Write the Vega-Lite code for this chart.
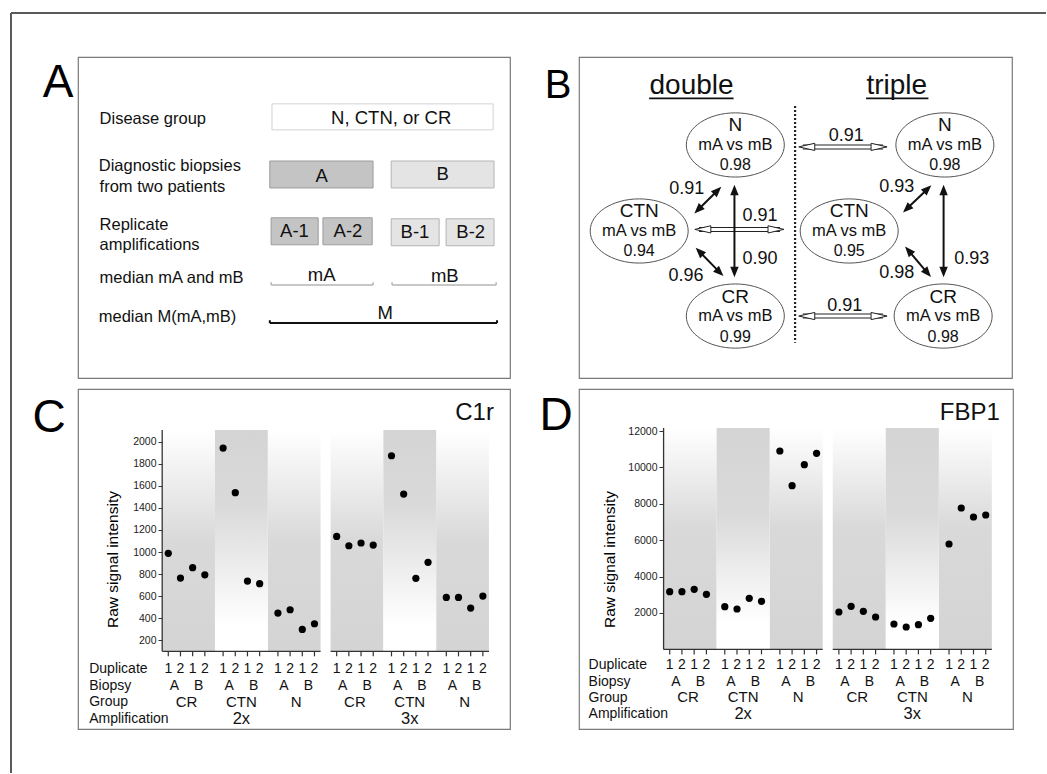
{
  "$schema": "https://vega.github.io/schema/vega-lite/v6.json",
  "background": "white",
  "padding": {"left": 9, "top": 11, "right": 0, "bottom": 0},
  "columns": 2,
  "align": "each",
  "bounds": "flush",
  "spacing": {"row": 11, "column": 69},
  "config": {
    "font": "Liberation Sans",
    "view": {"stroke": "#7a7a7a", "strokeWidth": 1.2},
    "title": {"orient": "left", "anchor": "end", "frame": "group", "angle": 0, "align": "right", "baseline": "top", "fontSize": 46, "fontWeight": "normal", "color": "#000"},
    "axis": {"domain": false, "grid": false, "tickSize": 4, "tickColor": "#333", "labelFontSize": 10.5, "labelColor": "#222", "labelPadding": 2, "labelOverlap": false, "titleFontSize": 15.5, "titleFontWeight": "normal", "titleColor": "#000"},
    "text": {"color": "#111"}
  },
  "datasets": {
    "frame": [
      {"side": "top", "x1": -15.51, "x2": 224.07, "y1": -13.71, "y2": -13.71},
      {"side": "left", "x1": -15.51, "x2": -15.51, "y1": -13.71, "y2": 223.05}
    ],
    "aBoxes": [
      {"item": "group", "shade": "group", "x1": 44.9, "x2": 96.1, "y1": 14.6, "y2": 22.7},
      {"item": "A", "shade": "A", "x1": 44.4, "x2": 68.3, "y1": 32.4, "y2": 40.8},
      {"item": "B", "shade": "B", "x1": 72.5, "x2": 96.3, "y1": 32.4, "y2": 40.8},
      {"item": "A-1", "shade": "A", "x1": 44.7, "x2": 55.6, "y1": 50.1, "y2": 58.5},
      {"item": "A-2", "shade": "A", "x1": 56.7, "x2": 68.1, "y1": 50.1, "y2": 58.5},
      {"item": "B-1", "shade": "B", "x1": 72.5, "x2": 83.6, "y1": 50.4, "y2": 58.8},
      {"item": "B-2", "shade": "B", "x1": 85.2, "x2": 96.3, "y1": 50.4, "y2": 58.8}
    ],
    "aBoxText": [
      {"t": "N, CTN, or CR", "x": 72.5, "y": 19.0},
      {"t": "A", "x": 56.4, "y": 37.0},
      {"t": "B", "x": 84.4, "y": 36.6},
      {"t": "A-1", "x": 50.1, "y": 54.2},
      {"t": "A-2", "x": 62.5, "y": 54.2},
      {"t": "B-1", "x": 78.0, "y": 54.6},
      {"t": "B-2", "x": 90.9, "y": 54.6},
      {"t": "mA", "x": 56.4, "y": 68.0},
      {"t": "mB", "x": 84.9, "y": 68.2},
      {"t": "M", "x": 71.1, "y": 79.6}
    ],
    "aLabels": [
      {"t": "Disease group", "x": 5.0, "y": 19.3},
      {"t": "Diagnostic biopsies", "x": 4.8, "y": 34.0},
      {"t": "from two patients", "x": 5.0, "y": 40.4},
      {"t": "Replicate", "x": 5.0, "y": 52.4},
      {"t": "amplifications", "x": 5.0, "y": 58.7},
      {"t": "median mA and mB", "x": 5.0, "y": 68.7},
      {"t": "median M(mA,mB)", "x": 4.8, "y": 81.0}
    ],
    "aBr": [
      {"kind": "thin", "x1": 44.7, "x2": 68.3, "y1": 71.0, "y2": 71.0},
      {"kind": "thin", "x1": 44.7, "x2": 44.7, "y1": 70.2, "y2": 71.0},
      {"kind": "thin", "x1": 68.3, "x2": 68.3, "y1": 70.2, "y2": 71.0},
      {"kind": "thin", "x1": 72.7, "x2": 96.8, "y1": 71.0, "y2": 71.0},
      {"kind": "thin", "x1": 72.7, "x2": 72.7, "y1": 70.2, "y2": 71.0},
      {"kind": "thin", "x1": 96.8, "x2": 96.8, "y1": 70.2, "y2": 71.0},
      {"kind": "thick", "x1": 44.4, "x2": 97.0, "y1": 82.9, "y2": 82.9},
      {"kind": "thick", "x1": 44.4, "x2": 44.4, "y1": 82.0, "y2": 82.9},
      {"kind": "thick", "x1": 97.0, "x2": 97.0, "y1": 82.0, "y2": 82.9}
    ],
    "bNodes": [
      {"side": "double", "name": "N", "x": 36.1, "y": 27.4, "r": "0.98"},
      {"side": "double", "name": "CTN", "x": 13.9, "y": 54.2, "r": "0.94"},
      {"side": "double", "name": "CR", "x": 36.1, "y": 80.7, "r": "0.99"},
      {"side": "triple", "name": "N", "x": 84.5, "y": 27.4, "r": "0.98"},
      {"side": "triple", "name": "CTN", "x": 62.4, "y": 54.2, "r": "0.95"},
      {"side": "triple", "name": "CR", "x": 84.1, "y": 80.7, "r": "0.98"}
    ],
    "bHead": [
      {"t": "double", "x": 26.0, "y": 11.5, "u1": 16.2, "u2": 35.7, "uy": 12.9},
      {"t": "triple", "x": 73.4, "y": 11.5, "u1": 66.3, "u2": 80.7, "uy": 12.9}
    ],
    "bDiv": [{"x": 49.9, "y1": 15.3, "y2": 89.0}],
    "bLinks": [
      {"kind": "solid", "x1": 32.0, "y1": 41.6, "x2": 27.5, "y2": 47.6},
      {"kind": "solid", "x1": 35.9, "y1": 41.4, "x2": 35.9, "y2": 67.0},
      {"kind": "solid", "x1": 27.8, "y1": 60.6, "x2": 32.5, "y2": 67.1},
      {"kind": "solid", "x1": 80.5, "y1": 41.1, "x2": 75.7, "y2": 47.3},
      {"kind": "solid", "x1": 84.2, "y1": 41.4, "x2": 84.2, "y2": 67.0},
      {"kind": "solid", "x1": 76.1, "y1": 60.3, "x2": 80.5, "y2": 67.3},
      {"kind": "hollow", "x1": 27.7, "y1": 53.7, "x2": 46.4, "y2": 53.7},
      {"kind": "hollow", "x1": 51.7, "y1": 28.0, "x2": 70.2, "y2": 28.0},
      {"kind": "hollow", "x1": 51.7, "y1": 80.7, "x2": 70.2, "y2": 80.7}
    ],
    "bTips": [
      {"kind": "solid", "x": 32.0, "y": 41.6, "angle": 45},
      {"kind": "solid", "x": 27.5, "y": 47.6, "angle": 225},
      {"kind": "solid", "x": 35.9, "y": 41.4, "angle": 0},
      {"kind": "solid", "x": 35.9, "y": 67.0, "angle": 180},
      {"kind": "solid", "x": 27.8, "y": 60.6, "angle": 315},
      {"kind": "solid", "x": 32.5, "y": 67.1, "angle": 135},
      {"kind": "solid", "x": 80.5, "y": 41.1, "angle": 46},
      {"kind": "solid", "x": 75.7, "y": 47.3, "angle": 226},
      {"kind": "solid", "x": 84.2, "y": 41.4, "angle": 0},
      {"kind": "solid", "x": 84.2, "y": 67.0, "angle": 180},
      {"kind": "solid", "x": 76.1, "y": 60.3, "angle": 319},
      {"kind": "solid", "x": 80.5, "y": 67.3, "angle": 139},
      {"kind": "hollow", "x": 28.6, "y": 53.7, "angle": 270},
      {"kind": "hollow", "x": 45.5, "y": 53.7, "angle": 90},
      {"kind": "hollow", "x": 52.6, "y": 28.0, "angle": 270},
      {"kind": "hollow", "x": 69.3, "y": 28.0, "angle": 90},
      {"kind": "hollow", "x": 52.6, "y": 80.7, "angle": 270},
      {"kind": "hollow", "x": 69.3, "y": 80.7, "angle": 90}
    ],
    "bLabels": [
      {"t": "0.91", "x": 24.9, "y": 41.0},
      {"t": "0.90", "x": 41.8, "y": 62.9},
      {"t": "0.96", "x": 24.7, "y": 68.2},
      {"t": "0.91", "x": 41.8, "y": 49.5},
      {"t": "0.91", "x": 61.7, "y": 24.6},
      {"t": "0.91", "x": 61.4, "y": 77.6},
      {"t": "0.93", "x": 73.4, "y": 40.4},
      {"t": "0.93", "x": 90.7, "y": 63.0},
      {"t": "0.98", "x": 73.4, "y": 67.2}
    ],
    "c1r": [
      {"amp": "2x", "group": "CR", "biopsy": "A", "dup": 1, "key": "CR A 1", "value": 988},
      {"amp": "2x", "group": "CR", "biopsy": "A", "dup": 2, "key": "CR A 2", "value": 764},
      {"amp": "2x", "group": "CR", "biopsy": "B", "dup": 1, "key": "CR B 1", "value": 858},
      {"amp": "2x", "group": "CR", "biopsy": "B", "dup": 2, "key": "CR B 2", "value": 794},
      {"amp": "2x", "group": "CTN", "biopsy": "A", "dup": 1, "key": "CTN A 1", "value": 1943},
      {"amp": "2x", "group": "CTN", "biopsy": "A", "dup": 2, "key": "CTN A 2", "value": 1538},
      {"amp": "2x", "group": "CTN", "biopsy": "B", "dup": 1, "key": "CTN B 1", "value": 737},
      {"amp": "2x", "group": "CTN", "biopsy": "B", "dup": 2, "key": "CTN B 2", "value": 713},
      {"amp": "2x", "group": "N", "biopsy": "A", "dup": 1, "key": "N A 1", "value": 447},
      {"amp": "2x", "group": "N", "biopsy": "A", "dup": 2, "key": "N A 2", "value": 477},
      {"amp": "2x", "group": "N", "biopsy": "B", "dup": 1, "key": "N B 1", "value": 299},
      {"amp": "2x", "group": "N", "biopsy": "B", "dup": 2, "key": "N B 2", "value": 350},
      {"amp": "3x", "group": "CR", "biopsy": "A", "dup": 1, "key": "CR A 1", "value": 1142},
      {"amp": "3x", "group": "CR", "biopsy": "A", "dup": 2, "key": "CR A 2", "value": 1057},
      {"amp": "3x", "group": "CR", "biopsy": "B", "dup": 1, "key": "CR B 1", "value": 1082},
      {"amp": "3x", "group": "CR", "biopsy": "B", "dup": 2, "key": "CR B 2", "value": 1063},
      {"amp": "3x", "group": "CTN", "biopsy": "A", "dup": 1, "key": "CTN A 1", "value": 1873},
      {"amp": "3x", "group": "CTN", "biopsy": "A", "dup": 2, "key": "CTN A 2", "value": 1526},
      {"amp": "3x", "group": "CTN", "biopsy": "B", "dup": 1, "key": "CTN B 1", "value": 762},
      {"amp": "3x", "group": "CTN", "biopsy": "B", "dup": 2, "key": "CTN B 2", "value": 907},
      {"amp": "3x", "group": "N", "biopsy": "A", "dup": 1, "key": "N A 1", "value": 589},
      {"amp": "3x", "group": "N", "biopsy": "A", "dup": 2, "key": "N A 2", "value": 589},
      {"amp": "3x", "group": "N", "biopsy": "B", "dup": 1, "key": "N B 1", "value": 492},
      {"amp": "3x", "group": "N", "biopsy": "B", "dup": 2, "key": "N B 2", "value": 601}
    ],
    "fbp1": [
      {"amp": "2x", "group": "CR", "biopsy": "A", "dup": 1, "key": "CR A 1", "value": 3170},
      {"amp": "2x", "group": "CR", "biopsy": "A", "dup": 2, "key": "CR A 2", "value": 3170},
      {"amp": "2x", "group": "CR", "biopsy": "B", "dup": 1, "key": "CR B 1", "value": 3300},
      {"amp": "2x", "group": "CR", "biopsy": "B", "dup": 2, "key": "CR B 2", "value": 3027},
      {"amp": "2x", "group": "CTN", "biopsy": "A", "dup": 1, "key": "CTN A 1", "value": 2346},
      {"amp": "2x", "group": "CTN", "biopsy": "A", "dup": 2, "key": "CTN A 2", "value": 2220},
      {"amp": "2x", "group": "CTN", "biopsy": "B", "dup": 1, "key": "CTN B 1", "value": 2808},
      {"amp": "2x", "group": "CTN", "biopsy": "B", "dup": 2, "key": "CTN B 2", "value": 2643},
      {"amp": "2x", "group": "N", "biopsy": "A", "dup": 1, "key": "N A 1", "value": 10901},
      {"amp": "2x", "group": "N", "biopsy": "A", "dup": 2, "key": "N A 2", "value": 8996},
      {"amp": "2x", "group": "N", "biopsy": "B", "dup": 1, "key": "N B 1", "value": 10150},
      {"amp": "2x", "group": "N", "biopsy": "B", "dup": 2, "key": "N B 2", "value": 10774},
      {"amp": "3x", "group": "CR", "biopsy": "A", "dup": 1, "key": "CR A 1", "value": 2055},
      {"amp": "3x", "group": "CR", "biopsy": "A", "dup": 2, "key": "CR A 2", "value": 2368},
      {"amp": "3x", "group": "CR", "biopsy": "B", "dup": 1, "key": "CR B 1", "value": 2091},
      {"amp": "3x", "group": "CR", "biopsy": "B", "dup": 2, "key": "CR B 2", "value": 1780},
      {"amp": "3x", "group": "CTN", "biopsy": "A", "dup": 1, "key": "CTN A 1", "value": 1396},
      {"amp": "3x", "group": "CTN", "biopsy": "A", "dup": 2, "key": "CTN A 2", "value": 1231},
      {"amp": "3x", "group": "CTN", "biopsy": "B", "dup": 1, "key": "CTN B 1", "value": 1357},
      {"amp": "3x", "group": "CTN", "biopsy": "B", "dup": 2, "key": "CTN B 2", "value": 1707},
      {"amp": "3x", "group": "N", "biopsy": "A", "dup": 1, "key": "N A 1", "value": 5791},
      {"amp": "3x", "group": "N", "biopsy": "A", "dup": 2, "key": "N A 2", "value": 7769},
      {"amp": "3x", "group": "N", "biopsy": "B", "dup": 1, "key": "N B 1", "value": 7275},
      {"amp": "3x", "group": "N", "biopsy": "B", "dup": 2, "key": "N B 2", "value": 7385}
    ],
    "bands": [
      {"amp": "2x", "group": "CR"}, {"amp": "2x", "group": "CTN"}, {"amp": "2x", "group": "N"},
      {"amp": "3x", "group": "CR"}, {"amp": "3x", "group": "CTN"}, {"amp": "3x", "group": "N"}
    ],
    "bio": [
      {"amp": "2x", "key": "CR A", "t": "A"}, {"amp": "2x", "key": "CR B", "t": "B"},
      {"amp": "2x", "key": "CTN A", "t": "A"}, {"amp": "2x", "key": "CTN B", "t": "B"},
      {"amp": "2x", "key": "N A", "t": "A"}, {"amp": "2x", "key": "N B", "t": "B"},
      {"amp": "3x", "key": "CR A", "t": "A"}, {"amp": "3x", "key": "CR B", "t": "B"},
      {"amp": "3x", "key": "CTN A", "t": "A"}, {"amp": "3x", "key": "CTN B", "t": "B"},
      {"amp": "3x", "key": "N A", "t": "A"}, {"amp": "3x", "key": "N B", "t": "B"}
    ],
    "grp": [
      {"amp": "2x", "key": "CR", "t": "CR"}, {"amp": "2x", "key": "CTN", "t": "CTN"}, {"amp": "2x", "key": "N", "t": "N"},
      {"amp": "3x", "key": "CR", "t": "CR"}, {"amp": "3x", "key": "CTN", "t": "CTN"}, {"amp": "3x", "key": "N", "t": "N"}
    ],
    "amps": [{"amp": "2x"}, {"amp": "3x"}],
    "hdr": [{"t": ["Duplicate", "Biopsy", "Group", "Amplification"]}]
  },
  "concat": [
    {
      "width": 432, "height": 321,
      "title": {"text": "A", "fontSize": 46, "offset": -94, "dy": 4},
      "layer": [
        {
          "data": {"name": "frame"},
          "mark": {"type": "rule", "color": "#5a5a5a", "strokeWidth": 2},
          "encoding": {
            "x": {"field": "x1", "type": "quantitative", "scale": {"domain": [0, 100]}, "axis": null},
            "x2": {"field": "x2"},
            "y": {"field": "y1", "type": "quantitative", "scale": {"domain": [0, 100], "reverse": true}, "axis": null},
            "y2": {"field": "y2"}
          }
        },
        {
          "data": {"name": "aBoxes"},
          "mark": {"type": "rect", "strokeWidth": 1},
          "encoding": {
            "x": {"field": "x1", "type": "quantitative", "scale": {"domain": [0, 100]}, "axis": null},
            "x2": {"field": "x2"},
            "y": {"field": "y1", "type": "quantitative", "scale": {"domain": [0, 100], "reverse": true}, "axis": null},
            "y2": {"field": "y2"},
            "fill": {"field": "shade", "type": "nominal", "scale": {"domain": ["group", "A", "B"], "range": ["#ffffff", "#c4c4c4", "#e4e4e4"]}, "legend": null},
            "stroke": {"field": "shade", "type": "nominal", "scale": {"domain": ["group", "A", "B"], "range": ["#d2d2d2", "#9c9c9c", "#b4b4b4"]}, "legend": null}
          }
        },
        {
          "data": {"name": "aBoxText"},
          "mark": {"type": "text", "fontSize": 18.5, "align": "center", "baseline": "middle"},
          "encoding": {
            "x": {"field": "x", "type": "quantitative", "scale": {"domain": [0, 100]}, "axis": null},
            "y": {"field": "y", "type": "quantitative", "scale": {"domain": [0, 100], "reverse": true}, "axis": null},
            "text": {"field": "t", "type": "nominal"}
          }
        },
        {
          "data": {"name": "aLabels"},
          "mark": {"type": "text", "fontSize": 16.5, "align": "left", "baseline": "middle"},
          "encoding": {
            "x": {"field": "x", "type": "quantitative", "scale": {"domain": [0, 100]}, "axis": null},
            "y": {"field": "y", "type": "quantitative", "scale": {"domain": [0, 100], "reverse": true}, "axis": null},
            "text": {"field": "t", "type": "nominal"}
          }
        },
        {
          "data": {"name": "aBr"},
          "transform": [{"filter": "datum.kind === 'thin'"}],
          "mark": {"type": "rule", "color": "#b5b5b5", "strokeWidth": 1.5},
          "encoding": {
            "x": {"field": "x1", "type": "quantitative", "scale": {"domain": [0, 100]}, "axis": null},
            "x2": {"field": "x2"},
            "y": {"field": "y1", "type": "quantitative", "scale": {"domain": [0, 100], "reverse": true}, "axis": null},
            "y2": {"field": "y2"}
          }
        },
        {
          "data": {"name": "aBr"},
          "transform": [{"filter": "datum.kind === 'thick'"}],
          "mark": {"type": "rule", "color": "#111", "strokeWidth": 2},
          "encoding": {
            "x": {"field": "x1", "type": "quantitative", "scale": {"domain": [0, 100]}, "axis": null},
            "x2": {"field": "x2"},
            "y": {"field": "y1", "type": "quantitative", "scale": {"domain": [0, 100], "reverse": true}, "axis": null},
            "y2": {"field": "y2"}
          }
        }
      ]
    },
    {
      "width": 433, "height": 321,
      "title": {"text": "B", "fontSize": 40, "offset": -19, "dy": 9},
      "layer": [
        {
          "data": {"name": "bDiv"},
          "mark": {"type": "rule", "color": "#222", "strokeWidth": 2.2, "strokeDash": [2, 2]},
          "encoding": {
            "x": {"field": "x", "type": "quantitative", "scale": {"domain": [0, 100]}, "axis": null},
            "y": {"field": "y1", "type": "quantitative", "scale": {"domain": [0, 100], "reverse": true}, "axis": null},
            "y2": {"field": "y2"}
          }
        },
        {
          "data": {"name": "bHead"},
          "mark": {"type": "rule", "color": "#111", "strokeWidth": 1.6},
          "encoding": {
            "x": {"field": "u1", "type": "quantitative", "scale": {"domain": [0, 100]}, "axis": null},
            "x2": {"field": "u2"},
            "y": {"field": "uy", "type": "quantitative", "scale": {"domain": [0, 100], "reverse": true}, "axis": null}
          }
        },
        {
          "data": {"name": "bHead"},
          "mark": {"type": "text", "fontSize": 28, "align": "center", "baseline": "alphabetic"},
          "encoding": {
            "x": {"field": "x", "type": "quantitative", "scale": {"domain": [0, 100]}, "axis": null},
            "y": {"field": "y", "type": "quantitative", "scale": {"domain": [0, 100], "reverse": true}, "axis": null},
            "text": {"field": "t", "type": "nominal"}
          }
        },
        {
          "data": {"name": "bLinks"},
          "transform": [{"filter": "datum.kind === 'hollow'"}],
          "mark": {"type": "rule", "color": "#222", "strokeWidth": 5},
          "encoding": {
            "x": {"field": "x1", "type": "quantitative", "scale": {"domain": [0, 100]}, "axis": null},
            "x2": {"field": "x2"},
            "y": {"field": "y1", "type": "quantitative", "scale": {"domain": [0, 100], "reverse": true}, "axis": null},
            "y2": {"field": "y2"}
          }
        },
        {
          "data": {"name": "bLinks"},
          "transform": [{"filter": "datum.kind === 'hollow'"}],
          "mark": {"type": "rule", "color": "#ffffff", "strokeWidth": 3},
          "encoding": {
            "x": {"field": "x1", "type": "quantitative", "scale": {"domain": [0, 100]}, "axis": null},
            "x2": {"field": "x2"},
            "y": {"field": "y1", "type": "quantitative", "scale": {"domain": [0, 100], "reverse": true}, "axis": null},
            "y2": {"field": "y2"}
          }
        },
        {
          "data": {"name": "bLinks"},
          "transform": [{"filter": "datum.kind === 'solid'"}],
          "mark": {"type": "rule", "color": "#111", "strokeWidth": 2},
          "encoding": {
            "x": {"field": "x1", "type": "quantitative", "scale": {"domain": [0, 100]}, "axis": null},
            "x2": {"field": "x2"},
            "y": {"field": "y1", "type": "quantitative", "scale": {"domain": [0, 100], "reverse": true}, "axis": null},
            "y2": {"field": "y2"}
          }
        },
        {
          "data": {"name": "bTips"},
          "transform": [{"filter": "datum.kind === 'solid'"}],
          "mark": {"type": "point", "shape": "M0,-1L0.8,1L-0.8,1Z", "size": 110, "filled": true, "fill": "#111", "stroke": null, "opacity": 1},
          "encoding": {
            "x": {"field": "x", "type": "quantitative", "scale": {"domain": [0, 100]}, "axis": null},
            "y": {"field": "y", "type": "quantitative", "scale": {"domain": [0, 100], "reverse": true}, "axis": null},
            "angle": {"field": "angle", "type": "quantitative", "scale": null}
          }
        },
        {
          "data": {"name": "bTips"},
          "transform": [{"filter": "datum.kind === 'hollow'"}],
          "mark": {"type": "point", "shape": "M0,-1L0.45,1L-0.45,1Z", "size": 256, "filled": true, "fill": "#ffffff", "stroke": "#222", "strokeWidth": 1, "opacity": 1},
          "encoding": {
            "x": {"field": "x", "type": "quantitative", "scale": {"domain": [0, 100]}, "axis": null},
            "y": {"field": "y", "type": "quantitative", "scale": {"domain": [0, 100], "reverse": true}, "axis": null},
            "angle": {"field": "angle", "type": "quantitative", "scale": null}
          }
        },
        {
          "data": {"name": "bNodes"},
          "mark": {"type": "point", "shape": "M1,0C1,0.36 0.5523,0.655 0,0.655C-0.5523,0.655 -1,0.36 -1,0C-1,-0.36 -0.5523,-0.655 0,-0.655C0.5523,-0.655 1,-0.36 1,0Z", "size": 9604, "filled": true, "fill": "#ffffff", "stroke": "#555", "strokeWidth": 1, "opacity": 1},
          "encoding": {
            "x": {"field": "x", "type": "quantitative", "scale": {"domain": [0, 100]}, "axis": null},
            "y": {"field": "y", "type": "quantitative", "scale": {"domain": [0, 100], "reverse": true}, "axis": null}
          }
        },
        {
          "data": {"name": "bNodes"},
          "mark": {"type": "text", "fontSize": 19, "align": "center", "baseline": "middle", "dy": -19.5},
          "encoding": {
            "x": {"field": "x", "type": "quantitative", "scale": {"domain": [0, 100]}, "axis": null},
            "y": {"field": "y", "type": "quantitative", "scale": {"domain": [0, 100], "reverse": true}, "axis": null},
            "text": {"field": "name", "type": "nominal"}
          }
        },
        {
          "data": {"name": "bNodes"},
          "mark": {"type": "text", "fontSize": 16.5, "align": "center", "baseline": "middle", "dy": 0},
          "encoding": {
            "x": {"field": "x", "type": "quantitative", "scale": {"domain": [0, 100]}, "axis": null},
            "y": {"field": "y", "type": "quantitative", "scale": {"domain": [0, 100], "reverse": true}, "axis": null},
            "text": {"value": "mA vs mB"}
          }
        },
        {
          "data": {"name": "bNodes"},
          "mark": {"type": "text", "fontSize": 16, "align": "center", "baseline": "middle", "dy": 20.5},
          "encoding": {
            "x": {"field": "x", "type": "quantitative", "scale": {"domain": [0, 100]}, "axis": null},
            "y": {"field": "y", "type": "quantitative", "scale": {"domain": [0, 100], "reverse": true}, "axis": null},
            "text": {"field": "r", "type": "nominal"}
          }
        },
        {
          "data": {"name": "bLabels"},
          "mark": {"type": "text", "fontSize": 18, "align": "center", "baseline": "middle"},
          "encoding": {
            "x": {"field": "x", "type": "quantitative", "scale": {"domain": [0, 100]}, "axis": null},
            "y": {"field": "y", "type": "quantitative", "scale": {"domain": [0, 100], "reverse": true}, "axis": null},
            "text": {"field": "t", "type": "nominal"}
          }
        }
      ]
    },
    {
      "width": 432, "height": 340,
      "title": {"text": "C", "fontSize": 46, "offset": -21, "dy": 7},
      "resolve": {"scale": {"xOffset": "independent"}},
      "layer": [
        {
          "data": {"name": "bands"},
          "transform": [{"filter": "datum.group !== 'CTN'"}],
          "mark": {"type": "rect", "fill": {"gradient": "linear", "x1": 0, "y1": 0, "x2": 0, "y2": 1, "stops": [{"offset": 0, "color": "#ffffff"}, {"offset": 0.5, "color": "#d9d9d9"}, {"offset": 1, "color": "#d4d4d4"}]}},
          "encoding": {
            "x": {"field": "amp", "type": "nominal", "scale": {"domain": ["2x", "3x"], "paddingInner": 0.0595, "paddingOuter": 0.3125, "align": 0.8}, "axis": null},
            "xOffset": {"field": "group", "type": "nominal", "scale": {"domain": ["CR", "CTN", "N"], "paddingInner": 0, "paddingOuter": 0}},
            "y": {"datum": 2106, "type": "quantitative", "scale": {"domain": [-604, 2478], "nice": false, "zero": false}},
            "y2": {"datum": 100}
          }
        },
        {
          "data": {"name": "bands"},
          "transform": [{"filter": "datum.group === 'CTN'"}],
          "mark": {"type": "rect", "fill": {"gradient": "linear", "x1": 0, "y1": 0, "x2": 0, "y2": 1, "stops": [{"offset": 0, "color": "#d4d4d4"}, {"offset": 0.35, "color": "#dadada"}, {"offset": 0.88, "color": "#ffffff"}, {"offset": 1, "color": "#ffffff"}]}},
          "encoding": {
            "x": {"field": "amp", "type": "nominal", "scale": {"domain": ["2x", "3x"], "paddingInner": 0.0595, "paddingOuter": 0.3125, "align": 0.8}, "axis": null},
            "xOffset": {"field": "group", "type": "nominal", "scale": {"domain": ["CR", "CTN", "N"], "paddingInner": 0, "paddingOuter": 0}},
            "y": {"datum": 2106, "type": "quantitative", "scale": {"domain": [-604, 2478], "nice": false, "zero": false}},
            "y2": {"datum": 100}
          }
        },
        {
          "data": {"name": "amps"},
          "transform": [{"filter": "datum.amp === '2x'"}],
          "mark": {"type": "rule", "color": "#333", "strokeWidth": 1.3},
          "encoding": {
            "x": {"field": "amp", "type": "nominal", "bandPosition": 0, "scale": {"domain": ["2x", "3x"], "paddingInner": 0.0595, "paddingOuter": 0.3125, "align": 0.8}, "axis": null},
            "y": {"datum": 100, "type": "quantitative", "scale": {"domain": [-604, 2478], "nice": false, "zero": false}},
            "y2": {"datum": 2106}
          }
        },
        {
          "data": {"name": "amps"},
          "mark": {"type": "rect", "filled": false, "stroke": "#333", "strokeWidth": 1.2},
          "encoding": {
            "x": {"field": "amp", "type": "nominal", "scale": {"domain": ["2x", "3x"], "paddingInner": 0.0595, "paddingOuter": 0.3125, "align": 0.8}, "axis": null},
            "y": {"datum": 100, "type": "quantitative", "scale": {"domain": [-604, 2478], "nice": false, "zero": false}},
            "y2": {"datum": 100}
          }
        },
        {
          "data": {"name": "c1r"},
          "mark": {"type": "tick", "orient": "vertical", "size": 5, "thickness": 1.2, "color": "#333", "yOffset": 2.5, "opacity": 1},
          "encoding": {
            "x": {"field": "amp", "type": "nominal", "scale": {"domain": ["2x", "3x"], "paddingInner": 0.0595, "paddingOuter": 0.3125, "align": 0.8}, "axis": null},
            "xOffset": {"field": "key", "type": "nominal", "scale": {"type": "point", "padding": 1.5, "domain": ["CR A 1", "CR A", "CR A 2", "CR", "CR B 1", "CR B", "CR B 2", "s1", "s2", "CTN A 1", "CTN A", "CTN A 2", "CTN", "CTN B 1", "CTN B", "CTN B 2", "s3", "s4", "N A 1", "N A", "N A 2", "N", "N B 1", "N B", "N B 2"]}},
            "y": {"datum": 100, "type": "quantitative", "scale": {"domain": [-604, 2478], "nice": false, "zero": false}}
          }
        },
        {
          "data": {"name": "c1r"},
          "mark": {"type": "point", "filled": true, "color": "#000", "size": 52, "opacity": 1},
          "encoding": {
            "x": {"field": "amp", "type": "nominal", "scale": {"domain": ["2x", "3x"], "paddingInner": 0.0595, "paddingOuter": 0.3125, "align": 0.8}, "axis": null},
            "xOffset": {"field": "key", "type": "nominal", "scale": {"type": "point", "padding": 1.5, "domain": ["CR A 1", "CR A", "CR A 2", "CR", "CR B 1", "CR B", "CR B 2", "s1", "s2", "CTN A 1", "CTN A", "CTN A 2", "CTN", "CTN B 1", "CTN B", "CTN B 2", "s3", "s4", "N A 1", "N A", "N A 2", "N", "N B 1", "N B", "N B 2"]}},
            "y": {"field": "value", "type": "quantitative", "scale": {"domain": [-604, 2478], "nice": false, "zero": false}, "axis": {"title": "Raw signal intensity", "values": [200, 400, 600, 800, 1000, 1200, 1400, 1600, 1800, 2000], "tickCount": 30, "format": "d", "offset": -84, "titlePadding": 12, "zindex": 1, "labelOverlap": false, "labelFlush": false}}
          }
        },
        {
          "data": {"name": "c1r"},
          "mark": {"type": "text", "fontSize": 14, "align": "center", "baseline": "middle", "dy": 17.7},
          "encoding": {
            "x": {"field": "amp", "type": "nominal", "scale": {"domain": ["2x", "3x"], "paddingInner": 0.0595, "paddingOuter": 0.3125, "align": 0.8}, "axis": null},
            "xOffset": {"field": "key", "type": "nominal", "scale": {"type": "point", "padding": 1.5, "domain": ["CR A 1", "CR A", "CR A 2", "CR", "CR B 1", "CR B", "CR B 2", "s1", "s2", "CTN A 1", "CTN A", "CTN A 2", "CTN", "CTN B 1", "CTN B", "CTN B 2", "s3", "s4", "N A 1", "N A", "N A 2", "N", "N B 1", "N B", "N B 2"]}},
            "y": {"datum": 100, "type": "quantitative", "scale": {"domain": [-604, 2478], "nice": false, "zero": false}},
            "text": {"field": "dup", "type": "nominal"}
          }
        },
        {
          "data": {"name": "bio"},
          "mark": {"type": "text", "fontSize": 14, "align": "center", "baseline": "middle", "dy": 34.7},
          "encoding": {
            "x": {"field": "amp", "type": "nominal", "scale": {"domain": ["2x", "3x"], "paddingInner": 0.0595, "paddingOuter": 0.3125, "align": 0.8}, "axis": null},
            "xOffset": {"field": "key", "type": "nominal", "scale": {"type": "point", "padding": 1.5, "domain": ["CR A 1", "CR A", "CR A 2", "CR", "CR B 1", "CR B", "CR B 2", "s1", "s2", "CTN A 1", "CTN A", "CTN A 2", "CTN", "CTN B 1", "CTN B", "CTN B 2", "s3", "s4", "N A 1", "N A", "N A 2", "N", "N B 1", "N B", "N B 2"]}},
            "y": {"datum": 100, "type": "quantitative", "scale": {"domain": [-604, 2478], "nice": false, "zero": false}},
            "text": {"field": "t", "type": "nominal"}
          }
        },
        {
          "data": {"name": "grp"},
          "mark": {"type": "text", "fontSize": 15, "align": "center", "baseline": "middle", "dy": 50.4},
          "encoding": {
            "x": {"field": "amp", "type": "nominal", "scale": {"domain": ["2x", "3x"], "paddingInner": 0.0595, "paddingOuter": 0.3125, "align": 0.8}, "axis": null},
            "xOffset": {"field": "key", "type": "nominal", "scale": {"type": "point", "padding": 1.5, "domain": ["CR A 1", "CR A", "CR A 2", "CR", "CR B 1", "CR B", "CR B 2", "s1", "s2", "CTN A 1", "CTN A", "CTN A 2", "CTN", "CTN B 1", "CTN B", "CTN B 2", "s3", "s4", "N A 1", "N A", "N A 2", "N", "N B 1", "N B", "N B 2"]}},
            "y": {"datum": 100, "type": "quantitative", "scale": {"domain": [-604, 2478], "nice": false, "zero": false}},
            "text": {"field": "t", "type": "nominal"}
          }
        },
        {
          "data": {"name": "amps"},
          "mark": {"type": "text", "fontSize": 16.5, "align": "center", "baseline": "middle", "dy": 67.6},
          "encoding": {
            "x": {"field": "amp", "type": "nominal", "scale": {"domain": ["2x", "3x"], "paddingInner": 0.0595, "paddingOuter": 0.3125, "align": 0.8}, "axis": null},
            "y": {"datum": 100, "type": "quantitative", "scale": {"domain": [-604, 2478], "nice": false, "zero": false}},
            "text": {"field": "amp", "type": "nominal"}
          }
        },
        {
          "data": {"name": "hdr"},
          "mark": {"type": "text", "fontSize": 14, "align": "left", "baseline": "alphabetic", "dx": -73, "dy": 21.7, "lineHeight": 16.7},
          "encoding": {
            "x": {"datum": "2x", "type": "nominal", "bandPosition": 0, "scale": {"domain": ["2x", "3x"], "paddingInner": 0.0595, "paddingOuter": 0.3125, "align": 0.8}, "axis": null},
            "y": {"datum": 100, "type": "quantitative", "scale": {"domain": [-604, 2478], "nice": false, "zero": false}},
            "text": {"field": "t", "type": "nominal"}
          }
        },
        {
          "data": {"values": [{"gene": "C1r"}]},
          "mark": {"type": "text", "fontSize": 24, "align": "right", "baseline": "alphabetic", "dx": 5, "dy": 31},
          "encoding": {
            "x": {"datum": "3x", "type": "nominal", "bandPosition": 1, "scale": {"domain": ["2x", "3x"], "paddingInner": 0.0595, "paddingOuter": 0.3125, "align": 0.8}, "axis": null},
            "y": {"datum": 2478, "type": "quantitative", "scale": {"domain": [-604, 2478], "nice": false, "zero": false}},
            "text": {"field": "gene", "type": "nominal"}
          }
        }
      ]
    },
    {
      "width": 434, "height": 340,
      "title": {"text": "D", "fontSize": 46, "offset": -27, "dy": 5},
      "resolve": {"scale": {"xOffset": "independent"}},
      "layer": [
        {
          "data": {"name": "bands"},
          "transform": [{"filter": "datum.group !== 'CTN'"}],
          "mark": {"type": "rect", "fill": {"gradient": "linear", "x1": 0, "y1": 0, "x2": 0, "y2": 1, "stops": [{"offset": 0, "color": "#ffffff"}, {"offset": 0.45, "color": "#d9d9d9"}, {"offset": 1, "color": "#d4d4d4"}]}},
          "encoding": {
            "x": {"field": "amp", "type": "nominal", "scale": {"domain": ["2x", "3x"], "paddingInner": 0.0595, "paddingOuter": 0.3125, "align": 0.8}, "axis": null},
            "xOffset": {"field": "group", "type": "nominal", "scale": {"domain": ["CR", "CTN", "N"], "paddingInner": 0, "paddingOuter": 0}},
            "y": {"datum": 12165, "type": "quantitative", "scale": {"domain": [-4374, 14308], "nice": false, "zero": false}},
            "y2": {"datum": 0}
          }
        },
        {
          "data": {"name": "bands"},
          "transform": [{"filter": "datum.group === 'CTN'"}],
          "mark": {"type": "rect", "fill": {"gradient": "linear", "x1": 0, "y1": 0, "x2": 0, "y2": 1, "stops": [{"offset": 0, "color": "#d4d4d4"}, {"offset": 0.4, "color": "#dadada"}, {"offset": 0.88, "color": "#ffffff"}, {"offset": 1, "color": "#ffffff"}]}},
          "encoding": {
            "x": {"field": "amp", "type": "nominal", "scale": {"domain": ["2x", "3x"], "paddingInner": 0.0595, "paddingOuter": 0.3125, "align": 0.8}, "axis": null},
            "xOffset": {"field": "group", "type": "nominal", "scale": {"domain": ["CR", "CTN", "N"], "paddingInner": 0, "paddingOuter": 0}},
            "y": {"datum": 12165, "type": "quantitative", "scale": {"domain": [-4374, 14308], "nice": false, "zero": false}},
            "y2": {"datum": 0}
          }
        },
        {
          "data": {"name": "amps"},
          "transform": [{"filter": "datum.amp === '2x'"}],
          "mark": {"type": "rule", "color": "#333", "strokeWidth": 1.3},
          "encoding": {
            "x": {"field": "amp", "type": "nominal", "bandPosition": 0, "scale": {"domain": ["2x", "3x"], "paddingInner": 0.0595, "paddingOuter": 0.3125, "align": 0.8}, "axis": null},
            "y": {"datum": 0, "type": "quantitative", "scale": {"domain": [-4374, 14308], "nice": false, "zero": false}},
            "y2": {"datum": 12165}
          }
        },
        {
          "data": {"name": "amps"},
          "mark": {"type": "rect", "filled": false, "stroke": "#333", "strokeWidth": 1.2},
          "encoding": {
            "x": {"field": "amp", "type": "nominal", "scale": {"domain": ["2x", "3x"], "paddingInner": 0.0595, "paddingOuter": 0.3125, "align": 0.8}, "axis": null},
            "y": {"datum": 0, "type": "quantitative", "scale": {"domain": [-4374, 14308], "nice": false, "zero": false}},
            "y2": {"datum": 0}
          }
        },
        {
          "data": {"name": "fbp1"},
          "mark": {"type": "tick", "orient": "vertical", "size": 5, "thickness": 1.2, "color": "#333", "yOffset": 2.5, "opacity": 1},
          "encoding": {
            "x": {"field": "amp", "type": "nominal", "scale": {"domain": ["2x", "3x"], "paddingInner": 0.0595, "paddingOuter": 0.3125, "align": 0.8}, "axis": null},
            "xOffset": {"field": "key", "type": "nominal", "scale": {"type": "point", "padding": 1.5, "domain": ["CR A 1", "CR A", "CR A 2", "CR", "CR B 1", "CR B", "CR B 2", "s1", "s2", "CTN A 1", "CTN A", "CTN A 2", "CTN", "CTN B 1", "CTN B", "CTN B 2", "s3", "s4", "N A 1", "N A", "N A 2", "N", "N B 1", "N B", "N B 2"]}},
            "y": {"datum": 0, "type": "quantitative", "scale": {"domain": [-4374, 14308], "nice": false, "zero": false}}
          }
        },
        {
          "data": {"name": "fbp1"},
          "mark": {"type": "point", "filled": true, "color": "#000", "size": 52, "opacity": 1},
          "encoding": {
            "x": {"field": "amp", "type": "nominal", "scale": {"domain": ["2x", "3x"], "paddingInner": 0.0595, "paddingOuter": 0.3125, "align": 0.8}, "axis": null},
            "xOffset": {"field": "key", "type": "nominal", "scale": {"type": "point", "padding": 1.5, "domain": ["CR A 1", "CR A", "CR A 2", "CR", "CR B 1", "CR B", "CR B 2", "s1", "s2", "CTN A 1", "CTN A", "CTN A 2", "CTN", "CTN B 1", "CTN B", "CTN B 2", "s3", "s4", "N A 1", "N A", "N A 2", "N", "N B 1", "N B", "N B 2"]}},
            "y": {"field": "value", "type": "quantitative", "scale": {"domain": [-4374, 14308], "nice": false, "zero": false}, "axis": {"title": "Raw signal intensity", "values": [2000, 4000, 6000, 8000, 10000, 12000], "tickCount": 30, "format": "d", "offset": -84, "titlePadding": 10.5, "zindex": 1, "labelOverlap": false, "labelFlush": false}}
          }
        },
        {
          "data": {"name": "fbp1"},
          "mark": {"type": "text", "fontSize": 14, "align": "center", "baseline": "middle", "dy": 15.9},
          "encoding": {
            "x": {"field": "amp", "type": "nominal", "scale": {"domain": ["2x", "3x"], "paddingInner": 0.0595, "paddingOuter": 0.3125, "align": 0.8}, "axis": null},
            "xOffset": {"field": "key", "type": "nominal", "scale": {"type": "point", "padding": 1.5, "domain": ["CR A 1", "CR A", "CR A 2", "CR", "CR B 1", "CR B", "CR B 2", "s1", "s2", "CTN A 1", "CTN A", "CTN A 2", "CTN", "CTN B 1", "CTN B", "CTN B 2", "s3", "s4", "N A 1", "N A", "N A 2", "N", "N B 1", "N B", "N B 2"]}},
            "y": {"datum": 0, "type": "quantitative", "scale": {"domain": [-4374, 14308], "nice": false, "zero": false}},
            "text": {"field": "dup", "type": "nominal"}
          }
        },
        {
          "data": {"name": "bio"},
          "mark": {"type": "text", "fontSize": 14, "align": "center", "baseline": "middle", "dy": 32.6},
          "encoding": {
            "x": {"field": "amp", "type": "nominal", "scale": {"domain": ["2x", "3x"], "paddingInner": 0.0595, "paddingOuter": 0.3125, "align": 0.8}, "axis": null},
            "xOffset": {"field": "key", "type": "nominal", "scale": {"type": "point", "padding": 1.5, "domain": ["CR A 1", "CR A", "CR A 2", "CR", "CR B 1", "CR B", "CR B 2", "s1", "s2", "CTN A 1", "CTN A", "CTN A 2", "CTN", "CTN B 1", "CTN B", "CTN B 2", "s3", "s4", "N A 1", "N A", "N A 2", "N", "N B 1", "N B", "N B 2"]}},
            "y": {"datum": 0, "type": "quantitative", "scale": {"domain": [-4374, 14308], "nice": false, "zero": false}},
            "text": {"field": "t", "type": "nominal"}
          }
        },
        {
          "data": {"name": "grp"},
          "mark": {"type": "text", "fontSize": 15, "align": "center", "baseline": "middle", "dy": 48},
          "encoding": {
            "x": {"field": "amp", "type": "nominal", "scale": {"domain": ["2x", "3x"], "paddingInner": 0.0595, "paddingOuter": 0.3125, "align": 0.8}, "axis": null},
            "xOffset": {"field": "key", "type": "nominal", "scale": {"type": "point", "padding": 1.5, "domain": ["CR A 1", "CR A", "CR A 2", "CR", "CR B 1", "CR B", "CR B 2", "s1", "s2", "CTN A 1", "CTN A", "CTN A 2", "CTN", "CTN B 1", "CTN B", "CTN B 2", "s3", "s4", "N A 1", "N A", "N A 2", "N", "N B 1", "N B", "N B 2"]}},
            "y": {"datum": 0, "type": "quantitative", "scale": {"domain": [-4374, 14308], "nice": false, "zero": false}},
            "text": {"field": "t", "type": "nominal"}
          }
        },
        {
          "data": {"name": "amps"},
          "mark": {"type": "text", "fontSize": 16.5, "align": "center", "baseline": "middle", "dy": 64.8},
          "encoding": {
            "x": {"field": "amp", "type": "nominal", "scale": {"domain": ["2x", "3x"], "paddingInner": 0.0595, "paddingOuter": 0.3125, "align": 0.8}, "axis": null},
            "y": {"datum": 0, "type": "quantitative", "scale": {"domain": [-4374, 14308], "nice": false, "zero": false}},
            "text": {"field": "amp", "type": "nominal"}
          }
        },
        {
          "data": {"name": "hdr"},
          "mark": {"type": "text", "fontSize": 14, "align": "left", "baseline": "alphabetic", "dx": -75, "dy": 19.9, "lineHeight": 16.3},
          "encoding": {
            "x": {"datum": "2x", "type": "nominal", "bandPosition": 0, "scale": {"domain": ["2x", "3x"], "paddingInner": 0.0595, "paddingOuter": 0.3125, "align": 0.8}, "axis": null},
            "y": {"datum": 0, "type": "quantitative", "scale": {"domain": [-4374, 14308], "nice": false, "zero": false}},
            "text": {"field": "t", "type": "nominal"}
          }
        },
        {
          "data": {"values": [{"gene": "FBP1"}]},
          "mark": {"type": "text", "fontSize": 24, "align": "right", "baseline": "alphabetic", "dx": 8, "dy": 31.3},
          "encoding": {
            "x": {"datum": "3x", "type": "nominal", "bandPosition": 1, "scale": {"domain": ["2x", "3x"], "paddingInner": 0.0595, "paddingOuter": 0.3125, "align": 0.8}, "axis": null},
            "y": {"datum": 14308, "type": "quantitative", "scale": {"domain": [-4374, 14308], "nice": false, "zero": false}},
            "text": {"field": "gene", "type": "nominal"}
          }
        }
      ]
    }
  ]
}
